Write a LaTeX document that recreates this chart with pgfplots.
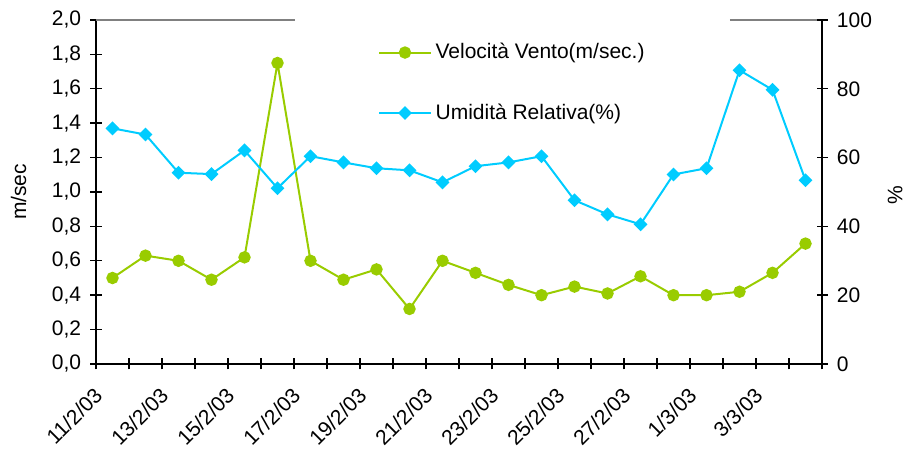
\documentclass[border=0pt]{standalone}
\usepackage{pgfplots}
\pgfplotsset{compat=1.18}
\usepackage{pgfplotstable}
\usepackage{fontspec}
\setmainfont{Liberation Sans}
\definecolor{vgreen}{RGB}{153,204,0}
\definecolor{hblue}{RGB}{0,204,255}
\newcommand{\fs}{\fontsize{10.5}{12.6}\selectfont}
\pgfplotstableread{
x v h
0 0.50 68.5
1 0.63 66.7
2 0.60 55.6
3 0.49 55.2
4 0.62 62.1
5 1.75 51.1
6 0.60 60.4
7 0.49 58.6
8 0.55 56.9
9 0.32 56.3
10 0.60 52.8
11 0.53 57.5
12 0.46 58.6
13 0.40 60.4
14 0.45 47.6
15 0.41 43.5
16 0.51 40.6
17 0.40 55.1
18 0.40 56.9
19 0.42 85.4
20 0.53 79.7
21 0.70 53.4
}\datatable
\pgfplotsset{base/.style={
  scale only axis, width=363pt, height=172pt, at={(0,0)}, anchor=south west,
  xmin=-0.5, xmax=21.5, ymin=0, clip=false,
  tick align=center, major tick length=5.5pt,
  every tick/.style={black, line width=0.7pt},
  axis line style={black, line width=0.9pt},
  /pgf/number format/assume math mode=true,
  tick label style={font=\fs}, label style={font=\fs}
}}
\begin{document}
\begin{tikzpicture}
\path[use as bounding box] (-48pt,-44.5pt) rectangle (406pt,182pt);
\begin{axis}[base, axis y line*=left, axis x line*=bottom, ymax=2,
  ytick={0,0.2,0.4,0.6,0.8,1.0,1.2,1.4,1.6,1.8,2.0},
  yticklabel style={/pgf/number format/fixed, /pgf/number format/fixed zerofill, /pgf/number format/precision=1, /pgf/number format/use comma, anchor=east, inner sep=0pt, xshift=-4.5pt},
  xtick={-0.5,0.5,1.5,2.5,3.5,4.5,5.5,6.5,7.5,8.5,9.5,10.5,11.5,12.5,13.5,14.5,15.5,16.5,17.5,18.5,19.5,20.5,21.5},
  xticklabels={11/2/03,{},13/2/03,{},15/2/03,{},17/2/03,{},19/2/03,{},21/2/03,{},23/2/03,{},25/2/03,{},27/2/03,{},1/3/03,{},3/3/03,{},{}},
  xticklabel style={xshift=-1.5pt, yshift=-8.25pt, rotate=45, anchor=north east, inner sep=0pt},
  ylabel={m/sec}, ylabel style={at={(axis description cs:-0.1067,0.5)}, anchor=center},
]
\draw[gray, line width=0.9pt] (rel axis cs:0,1) -- (rel axis cs:0.274,1);
\draw[gray, line width=0.9pt] (rel axis cs:0.873,1) -- (rel axis cs:1,1);
\addplot[vgreen, line width=1pt, mark=*, mark size=2.6pt] table[x=x,y=v]{\datatable};
\end{axis}
\begin{axis}[base, axis y line*=right, axis x line=none, ymax=100,
  ytick={0,20,40,60,80,100},
  yticklabel style={anchor=west, inner sep=0pt, xshift=4.5pt},
  ylabel={\%}, ylabel style={at={(axis description cs:1.1006,0.49)}, anchor=center},
  legend style={at={(axis description cs:0.3884,0.945)}, anchor=north west, draw=none, fill=none, inner sep=0pt, row sep=17pt, font=\fs, nodes={inner sep=2pt}},
  legend cell align=left,
  legend image code/.code={\draw[mark repeat=2, mark phase=2] plot coordinates {(0cm,0cm)(0.45cm,0cm)(0.9cm,0cm)};},
]
\addlegendimage{vgreen, line width=1pt, mark=*, mark size=2.6pt}
\addlegendentry{Velocità Vento(m/sec.)}
\addplot[hblue, line width=1pt, mark=square*, mark size=1.95pt, mark options={rotate=45}] table[x=x,y=h]{\datatable};
\addlegendentry{Umidità Relativa(\%)}
\end{axis}
\end{tikzpicture}
\end{document}
